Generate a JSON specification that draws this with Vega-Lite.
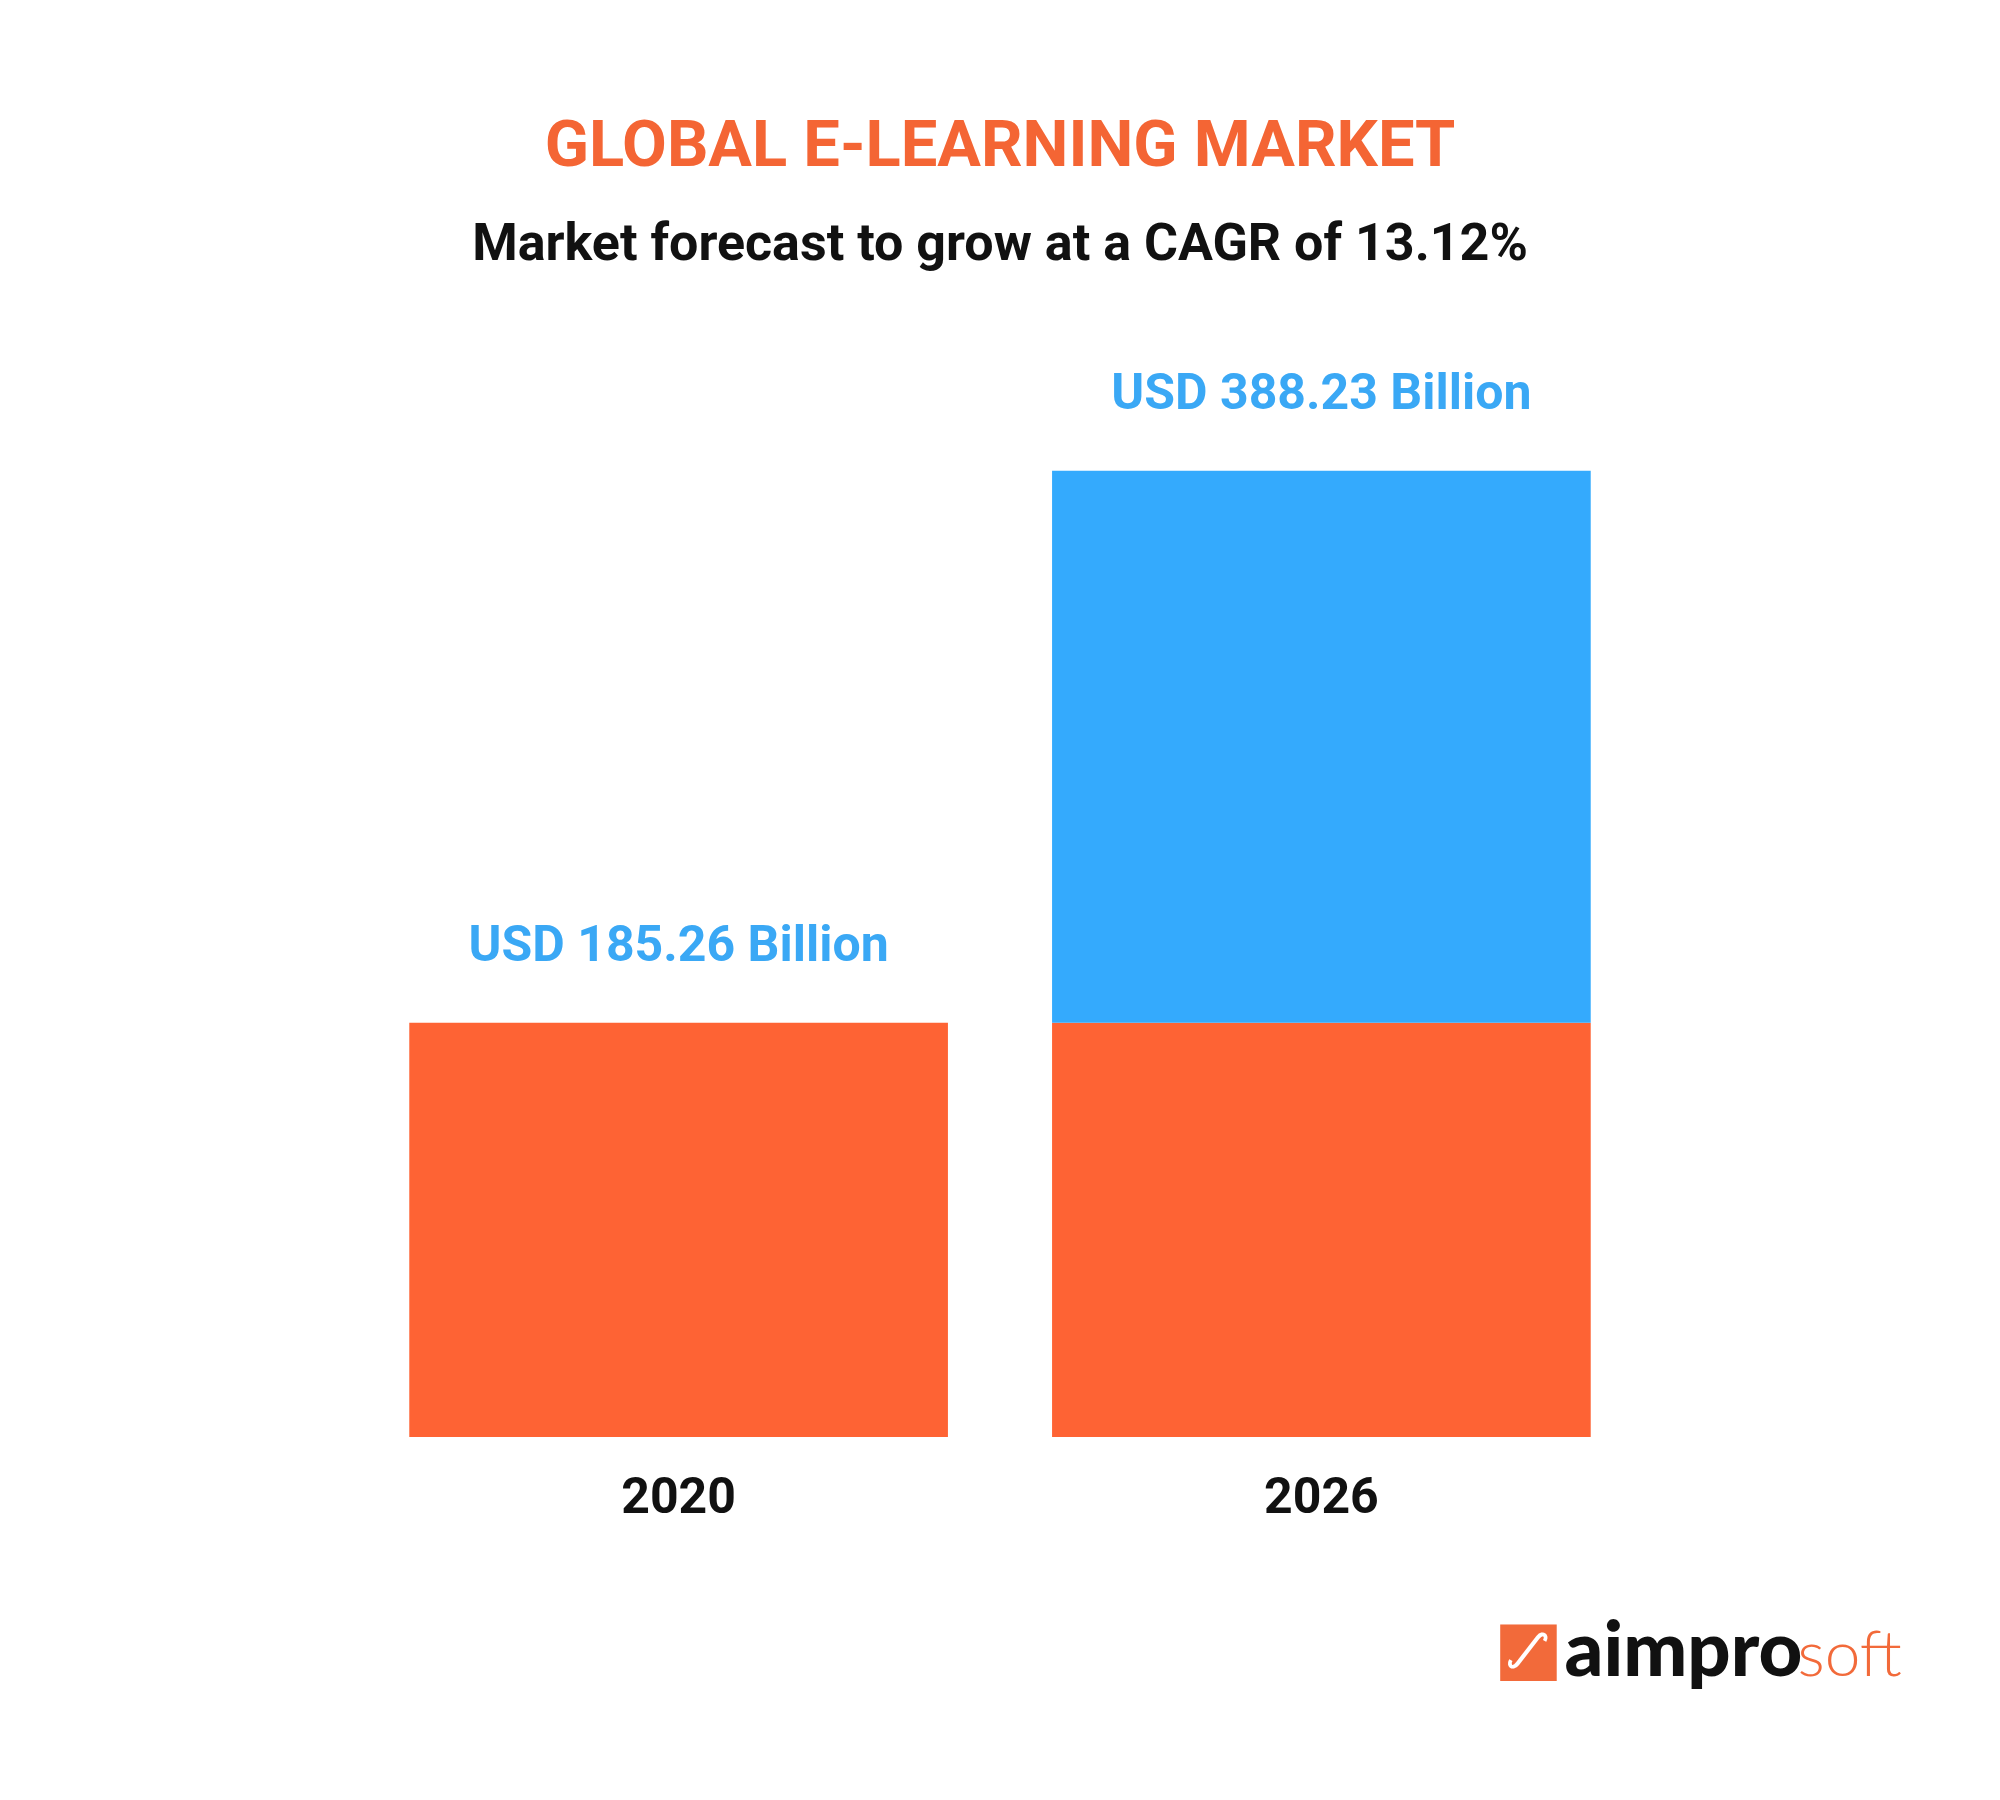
{
  "$schema": "https://vega.github.io/schema/vega-lite/v6.json",
  "width": 1310,
  "height": 1137,
  "autosize": {"type": "none"},
  "padding": {"left": 345, "right": 345, "top": 300, "bottom": 363},
  "background": "#ffffff",
  "title": {
    "text": "GLOBAL E-LEARNING MARKET",
    "subtitle": "Market forecast to grow at a CAGR of 13.12%",
    "anchor": "middle",
    "frame": "group",
    "font": "Roboto",
    "fontSize": 65,
    "fontWeight": "bold",
    "color": "#F46534",
    "subtitleFont": "Roboto",
    "subtitleFontSize": 52,
    "subtitleFontWeight": "bold",
    "subtitleColor": "#111111",
    "subtitlePadding": 39,
    "offset": 29
  },
  "datasets": {
    "segments": [
      {"year": "2020", "segment": "base", "value": 185.26},
      {"year": "2026", "segment": "base", "value": 185.26},
      {"year": "2026", "segment": "growth", "value": 202.97}
    ],
    "totals": [
      {"year": "2020", "total": 185.26, "label": "USD 185.26 Billion"},
      {"year": "2026", "total": 388.23, "label": "USD 388.23 Billion"}
    ]
  },
  "layer": [
    {
      "data": {"name": "segments"},
      "mark": {"type": "bar", "clip": true},
      "encoding": {
        "x": {
          "field": "year", "type": "nominal", "sort": null,
          "scale": {"paddingInner": 0.162, "paddingOuter": 0.1},
          "axis": {
            "title": "aimpro",
            "domain": false, "ticks": false, "labelAngle": 0,
            "labelFont": "Roboto", "labelFontWeight": "bold", "labelFontSize": 50,
            "labelColor": "#111111", "labelPadding": 35,
            "titleFont": "Lato", "titleFontWeight": 900, "titleFontSize": 76,
            "titleColor": "#111111", "titleAlign": "left", "titleBaseline": "alphabetic",
            "titleX": 1219, "titleY": 238
          }
        },
        "y": {
          "field": "value", "type": "quantitative", "stack": "zero",
          "scale": {"domain": [33, 451], "nice": false, "zero": false},
          "axis": {
            "title": "■",
            "domain": false, "ticks": false, "labels": false, "grid": false,
            "titleAngle": 0, "titleFont": "DejaVu Sans", "titleFontSize": 74,
            "titleColor": "#F26A3A", "titleAlign": "center", "titleBaseline": "middle",
            "titleX": 1183, "titleY": 1349, "zindex": 1
          }
        },
        "color": {
          "field": "segment", "type": "nominal",
          "scale": {"domain": ["base", "growth"], "range": ["#FE6334", "#34AAFD"]},
          "legend": null
        },
        "order": {"field": "segment", "type": "nominal", "sort": "ascending"}
      }
    },
    {
      "data": {"name": "totals"},
      "mark": {
        "type": "text", "dy": -77, "baseline": "middle", "align": "center",
        "font": "Roboto", "fontWeight": "bold", "fontSize": 50, "color": "#3AA8F5"
      },
      "encoding": {
        "x": {
          "field": "year", "type": "nominal", "sort": null,
          "axis": {
            "orient": "top", "title": "soft",
            "domain": false, "ticks": false, "labels": false,
            "titleFont": "Lato", "titleFontWeight": 300, "titleFontSize": 64,
            "titleColor": "#F26A3A", "titleAlign": "left", "titleBaseline": "alphabetic",
            "titleX": 1452, "titleY": 1375
          }
        },
        "y": {
          "field": "total", "type": "quantitative",
          "axis": {
            "orient": "right", "title": "∫",
            "domain": false, "ticks": false, "labels": false, "grid": false,
            "titleAngle": 35, "titleFont": "DejaVu Sans", "titleFontWeight": "normal", "titleFontSize": 50,
            "titleColor": "#ffffff", "titleAlign": "center", "titleBaseline": "middle",
            "titleX": -127, "titleY": 1349, "zindex": 2
          }
        },
        "text": {"field": "label"}
      }
    }
  ],
  "resolve": {"axis": {"x": "independent", "y": "independent"}},
  "config": {"view": {"stroke": null}}
}
